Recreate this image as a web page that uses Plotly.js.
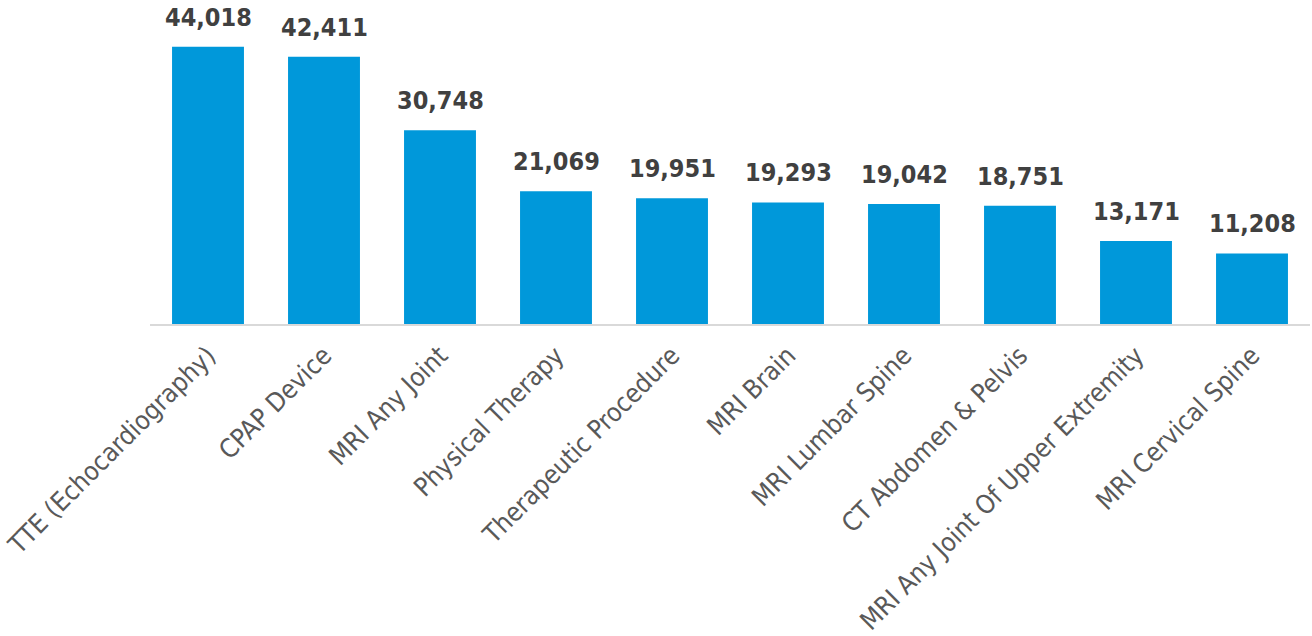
<!DOCTYPE html>
<html>
<head>
<meta charset="utf-8">
<script src="https://cdn.plot.ly/plotly-3.0.1.min.js"></script>
<style>html,body{margin:0;padding:0;background:#fff;}#chart{width:1312px;height:636px;}</style>
</head>
<body>
<div id="chart"></div>
<script>
const categories = ["TTE (Echocardiography)", "CPAP Device", "MRI Any Joint", "Physical Therapy", "Therapeutic Procedure", "MRI Brain", "MRI Lumbar Spine", "CT Abdomen & Pelvis", "MRI Any Joint Of Upper Extremity", "MRI Cervical Spine"];
const values = [44018, 42411, 30748, 21069, 19951, 19293, 19042, 18751, 13171, 11208];
const valueLabels = values.map(v => v.toLocaleString('en-US'));

const FONT = '"DejaVu Sans Condensed", "Liberation Sans Narrow", "Liberation Sans", sans-serif';

const trace = {
  type: 'bar',
  x: categories,
  y: values,
  marker: {color: '#0098DA'},
  width: 0.62,
  hoverinfo: 'none'
};

const annotations = categories.map((c, i) => ({
  x: c, y: values[i], xref: 'x', yref: 'y',
  text: '<b>' + valueLabels[i] + '</b>',
  showarrow: false, yanchor: 'bottom', yshift: 13,
  font: {family: FONT, size: 25, color: '#404040'}
}));

const layout = {
  width: 1312, height: 636,
  margin: {l: 150, r: 2, t: 9, b: 312},
  paper_bgcolor: '#fff', plot_bgcolor: '#fff',
  showlegend: false,
  xaxis: {
    type: 'category',
    tickangle: -45,
    tickfont: {family: FONT, size: 26, color: '#595959'},
    showline: true, linecolor: '#D9D9D9', linewidth: 2,
    showgrid: false, ticks: 'outside', ticklen: 4, tickcolor: 'rgba(0,0,0,0)',
    zeroline: false
  },
  yaxis: {
    range: [0, 50000],
    visible: false, showgrid: false, zeroline: false
  },
  annotations: annotations
};

Plotly.newPlot('chart', [trace], layout, {displayModeBar: false, staticPlot: true});
</script>
</body>
</html>
